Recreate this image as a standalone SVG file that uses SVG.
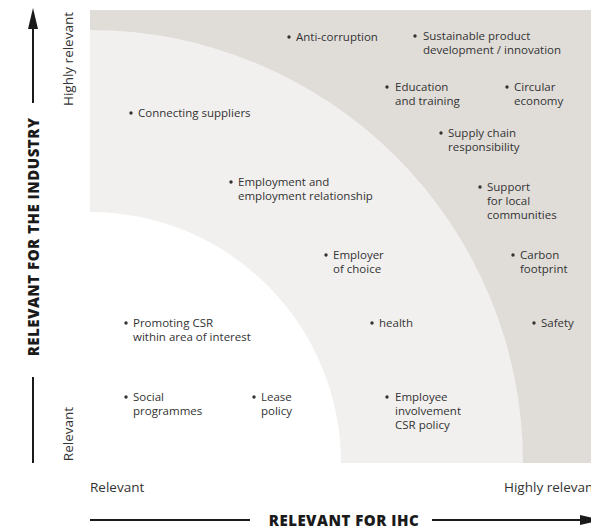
<svg xmlns="http://www.w3.org/2000/svg" width="591" height="530" viewBox="0 0 591 530">
<defs>
<style>
.t{font-family:"Open Sans","Liberation Sans",sans-serif;font-size:11.5px;fill:#333333}
.ax{font-family:"Open Sans","Liberation Sans",sans-serif;font-size:13.5px;fill:#333333}
.b{font-family:"Open Sans","Liberation Sans",sans-serif;font-size:15px;font-weight:800;letter-spacing:0.5px;fill:#1a1a1a}
.ln{stroke:#1a1a1a;stroke-width:2;fill:none}
.bul{fill:#333333}
</style>
</defs>
<rect width="591" height="530" fill="#ffffff"/>
<g id="zones">
<rect x="90" y="10" width="501" height="453" fill="#e0ddd9"/>
<path d="M90,463 L90,30 A433,433 0 0 1 523,463 Z" fill="#f1f0ef"/>
<path d="M90,463 L90,212 A251,251 0 0 1 341,463 Z" fill="#ffffff"/>
</g>
<g id="connectors">
<line class="ln" x1="33" y1="26" x2="33" y2="103"/>
<polygon points="33,8 28,29 38,29" fill="#1a1a1a"/>
<line class="ln" x1="33" y1="377" x2="33" y2="463"/>
<line class="ln" x1="90" y1="520" x2="250" y2="520"/>
<line class="ln" x1="432" y1="520" x2="585" y2="520"/>
<polygon points="601,520 580,515 580,525" fill="#1a1a1a"/>
</g>
<g id="axis-labels">
<text class="b" transform="translate(39,237) rotate(-90)" text-anchor="middle">RELEVANT FOR THE INDUSTRY</text>
<text class="b" x="344" y="526" text-anchor="middle">RELEVANT FOR IHC</text>
<text class="ax" transform="translate(73,59) rotate(-90)" text-anchor="middle">Highly relevant</text>
<text class="ax" transform="translate(73,434) rotate(-90)" text-anchor="middle">Relevant</text>
<text class="ax" x="90" y="492">Relevant</text>
<text class="ax" x="504" y="492">Highly relevant</text>
</g>
<g id="n-anti-corruption"><circle class="bul" cx="289" cy="37" r="1.7"/><text class="t" x="296" y="41">Anti-corruption</text></g>
<g id="n-sustainable"><circle class="bul" cx="415" cy="36" r="1.7"/><text class="t" x="423" y="40">Sustainable product</text><text class="t" x="423" y="54">development / innovation</text></g>
<g id="n-education"><circle class="bul" cx="387" cy="87" r="1.7"/><text class="t" x="395" y="91">Education</text><text class="t" x="395" y="105">and training</text></g>
<g id="n-circular"><circle class="bul" cx="507" cy="87" r="1.7"/><text class="t" x="514" y="91">Circular</text><text class="t" x="514" y="105">economy</text></g>
<g id="n-connecting"><circle class="bul" cx="131" cy="113" r="1.7"/><text class="t" x="138" y="117">Connecting suppliers</text></g>
<g id="n-supply"><circle class="bul" cx="441" cy="133" r="1.7"/><text class="t" x="448" y="137">Supply chain</text><text class="t" x="448" y="151">responsibility</text></g>
<g id="n-employment"><circle class="bul" cx="231" cy="182" r="1.7"/><text class="t" x="238" y="186">Employment and</text><text class="t" x="238" y="200">employment relationship</text></g>
<g id="n-support"><circle class="bul" cx="480" cy="187" r="1.7"/><text class="t" x="487" y="191">Support</text><text class="t" x="487" y="205">for local</text><text class="t" x="487" y="219">communities</text></g>
<g id="n-employer"><circle class="bul" cx="326" cy="255" r="1.7"/><text class="t" x="333" y="259">Employer</text><text class="t" x="333" y="273">of choice</text></g>
<g id="n-carbon"><circle class="bul" cx="513" cy="255" r="1.7"/><text class="t" x="520" y="259">Carbon</text><text class="t" x="520" y="273">footprint</text></g>
<g id="n-promoting"><circle class="bul" cx="126" cy="323" r="1.7"/><text class="t" x="133" y="327">Promoting CSR</text><text class="t" x="133" y="341">within area of interest</text></g>
<g id="n-health"><circle class="bul" cx="372" cy="323" r="1.7"/><text class="t" x="379" y="327">health</text></g>
<g id="n-safety"><circle class="bul" cx="534" cy="323" r="1.7"/><text class="t" x="541" y="327">Safety</text></g>
<g id="n-social"><circle class="bul" cx="126" cy="397" r="1.7"/><text class="t" x="133" y="401">Social</text><text class="t" x="133" y="415">programmes</text></g>
<g id="n-lease"><circle class="bul" cx="254" cy="397" r="1.7"/><text class="t" x="261" y="401">Lease</text><text class="t" x="261" y="415">policy</text></g>
<g id="n-employee"><circle class="bul" cx="387" cy="397" r="1.7"/><text class="t" x="395" y="401">Employee</text><text class="t" x="395" y="415">involvement</text><text class="t" x="395" y="429">CSR policy</text></g>
</svg>
